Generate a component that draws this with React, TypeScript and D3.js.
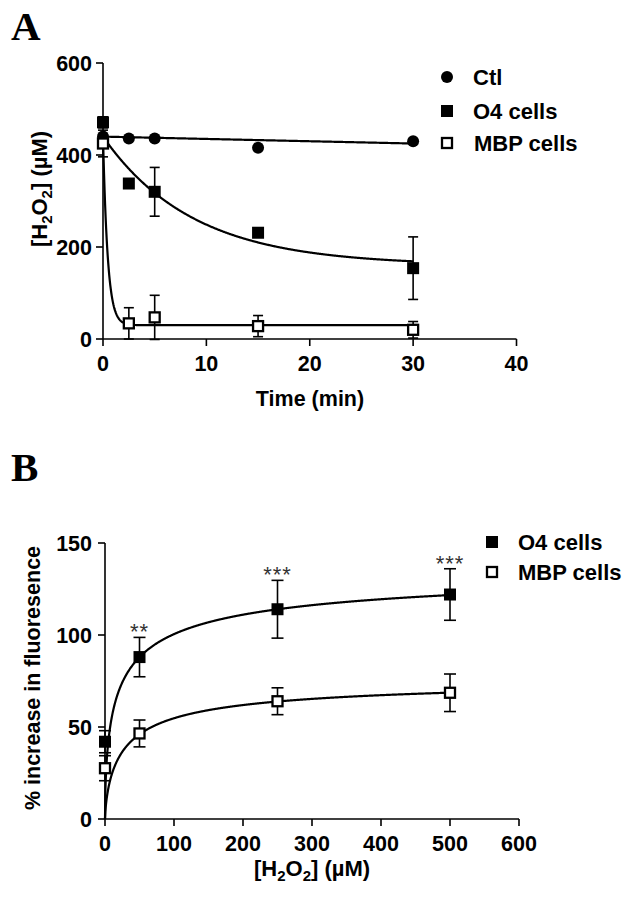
import React from "react";
import * as d3 from "d3";

// ---------- Panel A data ----------
const timeA = [0, 2.5, 5, 15, 30];
const ctlA = [440, 436, 436, 416, 430];
const ctlErrA = [0, 0, 0, 0, 0];
const o4A = [471, 338, 320, 231, 154];
const o4ErrA = [12, 0, 53, 0, 68];
const mbpA = [425, 34, 47, 28, 20];
const mbpErrA = [29, 34, 48, 23, 18];
const xTicksA = [0, 10, 20, 30, 40];
const yTicksA = [0, 200, 400, 600];
// one-phase decay fits: [Y0, plateau, k]
const ctlFitA = [440, 0, 0.00116];
const o4FitA = [440, 160, 0.115];
const mbpFitA = [440, 30, 2.2];

// ---------- Panel B data ----------
const concB = [0, 50, 250, 500];
const o4B = [42, 88, 114, 122];
const o4ErrB = [6, 10.7, 15.7, 14];
const mbpB = [27.6, 46.5, 64, 68.6];
const mbpErrB = [6.8, 7.3, 7.3, 10.2];
const starsB = ["", "**", "***", "***"];
const xTicksB = [0, 100, 200, 300, 400, 500, 600];
const yTicksB = [0, 50, 100, 150];
// Hill-type saturation fits: [Bmax, K, h]
const o4FitB = [141, 20.9, 0.58];
const mbpFitB = [77.8, 29.8, 0.715];

const FONT = "'Liberation Sans', Arial, Helvetica, sans-serif";
const SERIF = "'Liberation Serif', 'Times New Roman', serif";

const decay = (p: number[]) => (t: number) => (p[0] - p[1]) * Math.exp(-p[2] * t) + p[1];
const hill = (p: number[]) => (x: number) =>
  x <= 0 ? 0 : (p[0] * Math.pow(x / p[1], p[2])) / (1 + Math.pow(x / p[1], p[2]));

type MarkerKind = "circle" | "filled" | "open";

function Marker({ kind, x, y }: { kind: MarkerKind; x: number; y: number }) {
  if (kind === "circle") return <circle cx={x} cy={y} r={6} fill="#000" />;
  if (kind === "filled") return <rect x={x - 6} y={y - 6} width={12} height={12} fill="#000" />;
  return <rect x={x - 5} y={y - 5} width={10} height={10} fill="#fff" stroke="#000" strokeWidth={2.3} />;
}

function ErrorBars({ xs, ys, errs, x, y, cap }: any) {
  return (
    <g stroke="#000" strokeWidth={1.6}>
      {xs.map((xv: number, i: number) => {
        const e = errs[i];
        if (!e) return null;
        const px = x(xv);
        const y1 = y(ys[i] + e);
        const y2 = y(ys[i] - e);
        return (
          <g key={i}>
            <line x1={px} x2={px} y1={y1} y2={y2} />
            <line x1={px - cap} x2={px + cap} y1={y1} y2={y1} />
            <line x1={px - cap} x2={px + cap} y1={y2} y2={y2} />
          </g>
        );
      })}
    </g>
  );
}

function H2O2({ suffix }: { suffix: string }) {
  return (
    <>
      [H<tspan fontSize={15} dy={5}>2</tspan>
      <tspan dy={-5}>O</tspan>
      <tspan fontSize={15} dy={5}>2</tspan>
      <tspan dy={-5}>{suffix}</tspan>
    </>
  );
}

export default function App() {
  const xA = d3.scaleLinear().domain([0, 40]).range([103, 516.5]);
  const yA = d3.scaleLinear().domain([0, 600]).range([339, 63]);
  const xB = d3.scaleLinear().domain([0, 600]).range([105, 519]);
  const yB = d3.scaleLinear().domain([0, 150]).range([819, 543]);

  const tSamples = d3.range(0, 30.0001, 0.05);
  const curveA = (f: (t: number) => number) =>
    d3.line<number>().x((t) => xA(t)).y((t) => yA(f(t)))(tSamples) || "";

  const xSamples = d3.range(0, 500.0001, 0.5);
  const curveB = (f: (x: number) => number) =>
    d3.line<number>().x((v) => xB(v)).y((v) => yB(f(v)))(xSamples) || "";

  const tickLen = 7;

  return (
    <svg
      width={631}
      height={899}
      style={{ position: "absolute", left: 0, top: 0, background: "#fff" }}
      fontFamily={FONT}
    >
      <rect width={631} height={899} fill="#fff" />
      <text x={11} y={40} fontFamily={SERIF} fontWeight="bold" fontSize={41}>A</text>
      <text x={11} y={481} fontFamily={SERIF} fontWeight="bold" fontSize={41}>B</text>

      {/* ================= Panel A ================= */}
      <g>
        <line x1={xA(0)} x2={xA(0)} y1={yA(0)} y2={yA(600)} stroke="#000" strokeWidth={1.6} />
        <line x1={xA(0)} x2={xA(40)} y1={yA(0)} y2={yA(0)} stroke="#000" strokeWidth={1.6} />
        {yTicksA.map((v) => (
          <g key={v}>
            <line x1={xA(0) - tickLen} x2={xA(0)} y1={yA(v)} y2={yA(v)} stroke="#000" strokeWidth={1.6} />
            <text x={92} y={yA(v) + 7.8} textAnchor="end" fontWeight="bold" fontSize={21.5}>{v}</text>
          </g>
        ))}
        {xTicksA.map((v) => (
          <g key={v}>
            <line x1={xA(v)} x2={xA(v)} y1={yA(0)} y2={yA(0) + tickLen} stroke="#000" strokeWidth={1.6} />
            <text x={xA(v)} y={371} textAnchor="middle" fontWeight="bold" fontSize={21.5}>{v}</text>
          </g>
        ))}
        <text x={310} y={406} textAnchor="middle" fontWeight="bold" fontSize={21.5}>Time (min)</text>
        <text transform={`translate(47,189) rotate(-90)`} textAnchor="middle" fontWeight="bold" fontSize={22}>
          <H2O2 suffix="] (µM)" />
        </text>

        <g fill="none" stroke="#000" strokeWidth={2.2}>
          <path d={curveA(decay(ctlFitA))} />
          <path d={curveA(decay(o4FitA))} />
          <path d={curveA(decay(mbpFitA))} />
        </g>

        <ErrorBars xs={timeA} ys={ctlA} errs={ctlErrA} x={xA} y={yA} cap={5} />
        <ErrorBars xs={timeA} ys={o4A} errs={o4ErrA} x={xA} y={yA} cap={5} />
        <ErrorBars xs={timeA} ys={mbpA} errs={mbpErrA} x={xA} y={yA} cap={5} />

        {timeA.map((t, i) => <Marker key={"c" + i} kind="circle" x={xA(t)} y={yA(ctlA[i])} />)}
        {timeA.map((t, i) => <Marker key={"f" + i} kind="filled" x={xA(t)} y={yA(o4A[i])} />)}
        {timeA.map((t, i) => <Marker key={"o" + i} kind="open" x={xA(t)} y={yA(mbpA[i])} />)}

        <Marker kind="circle" x={447} y={77} />
        <text x={473} y={85} fontWeight="bold" fontSize={22}>Ctl</text>
        <Marker kind="filled" x={447} y={111} />
        <text x={473} y={119} fontWeight="bold" fontSize={22}>O4 cells</text>
        <Marker kind="open" x={447} y={143} />
        <text x={474} y={151} fontWeight="bold" fontSize={22}>MBP cells</text>
      </g>

      {/* ================= Panel B ================= */}
      <g>
        <line x1={xB(0)} x2={xB(0)} y1={yB(0)} y2={yB(150)} stroke="#000" strokeWidth={1.6} />
        <line x1={xB(0)} x2={xB(600)} y1={yB(0)} y2={yB(0)} stroke="#000" strokeWidth={1.6} />
        {yTicksB.map((v) => (
          <g key={v}>
            <line x1={xB(0) - tickLen} x2={xB(0)} y1={yB(v)} y2={yB(v)} stroke="#000" strokeWidth={1.6} />
            <text x={92} y={yB(v) + 7.8} textAnchor="end" fontWeight="bold" fontSize={21.5}>{v}</text>
          </g>
        ))}
        {xTicksB.map((v) => (
          <g key={v}>
            <line x1={xB(v)} x2={xB(v)} y1={yB(0)} y2={yB(0) + tickLen} stroke="#000" strokeWidth={1.6} />
            <text x={xB(v)} y={851} textAnchor="middle" fontWeight="bold" fontSize={21.5}>{v}</text>
          </g>
        ))}
        <text x={312} y={876} textAnchor="middle" fontWeight="bold" fontSize={22}>
          <H2O2 suffix="] (µM)" />
        </text>
        <text transform={`translate(40,678) rotate(-90)`} textAnchor="middle" fontWeight="bold" fontSize={21.5}>
          % increase in fluoresence
        </text>

        <g fill="none" stroke="#000" strokeWidth={2.2}>
          <path d={curveB(hill(o4FitB))} />
          <path d={curveB(hill(mbpFitB))} />
        </g>

        <ErrorBars xs={concB} ys={o4B} errs={o4ErrB} x={xB} y={yB} cap={6} />
        <ErrorBars xs={concB} ys={mbpB} errs={mbpErrB} x={xB} y={yB} cap={6} />

        {concB.map((c, i) => <Marker key={"f" + i} kind="filled" x={xB(c)} y={yB(o4B[i])} />)}
        {concB.map((c, i) => <Marker key={"o" + i} kind="open" x={xB(c)} y={yB(mbpB[i])} />)}

        {concB.map((c, i) =>
          starsB[i] ? (
            <text
              key={"s" + i}
              x={xB(c)}
              y={yB(o4B[i] + o4ErrB[i]) + 2}
              textAnchor="middle"
              fontSize={22}
              fill="#333"
              letterSpacing={1}
            >
              {starsB[i]}
            </text>
          ) : null
        )}

        <Marker kind="filled" x={492} y={542} />
        <text x={518} y={550} fontWeight="bold" fontSize={22}>O4 cells</text>
        <Marker kind="open" x={492} y={572} />
        <text x={518} y={580} fontWeight="bold" fontSize={22}>MBP cells</text>
      </g>
    </svg>
  );
}
